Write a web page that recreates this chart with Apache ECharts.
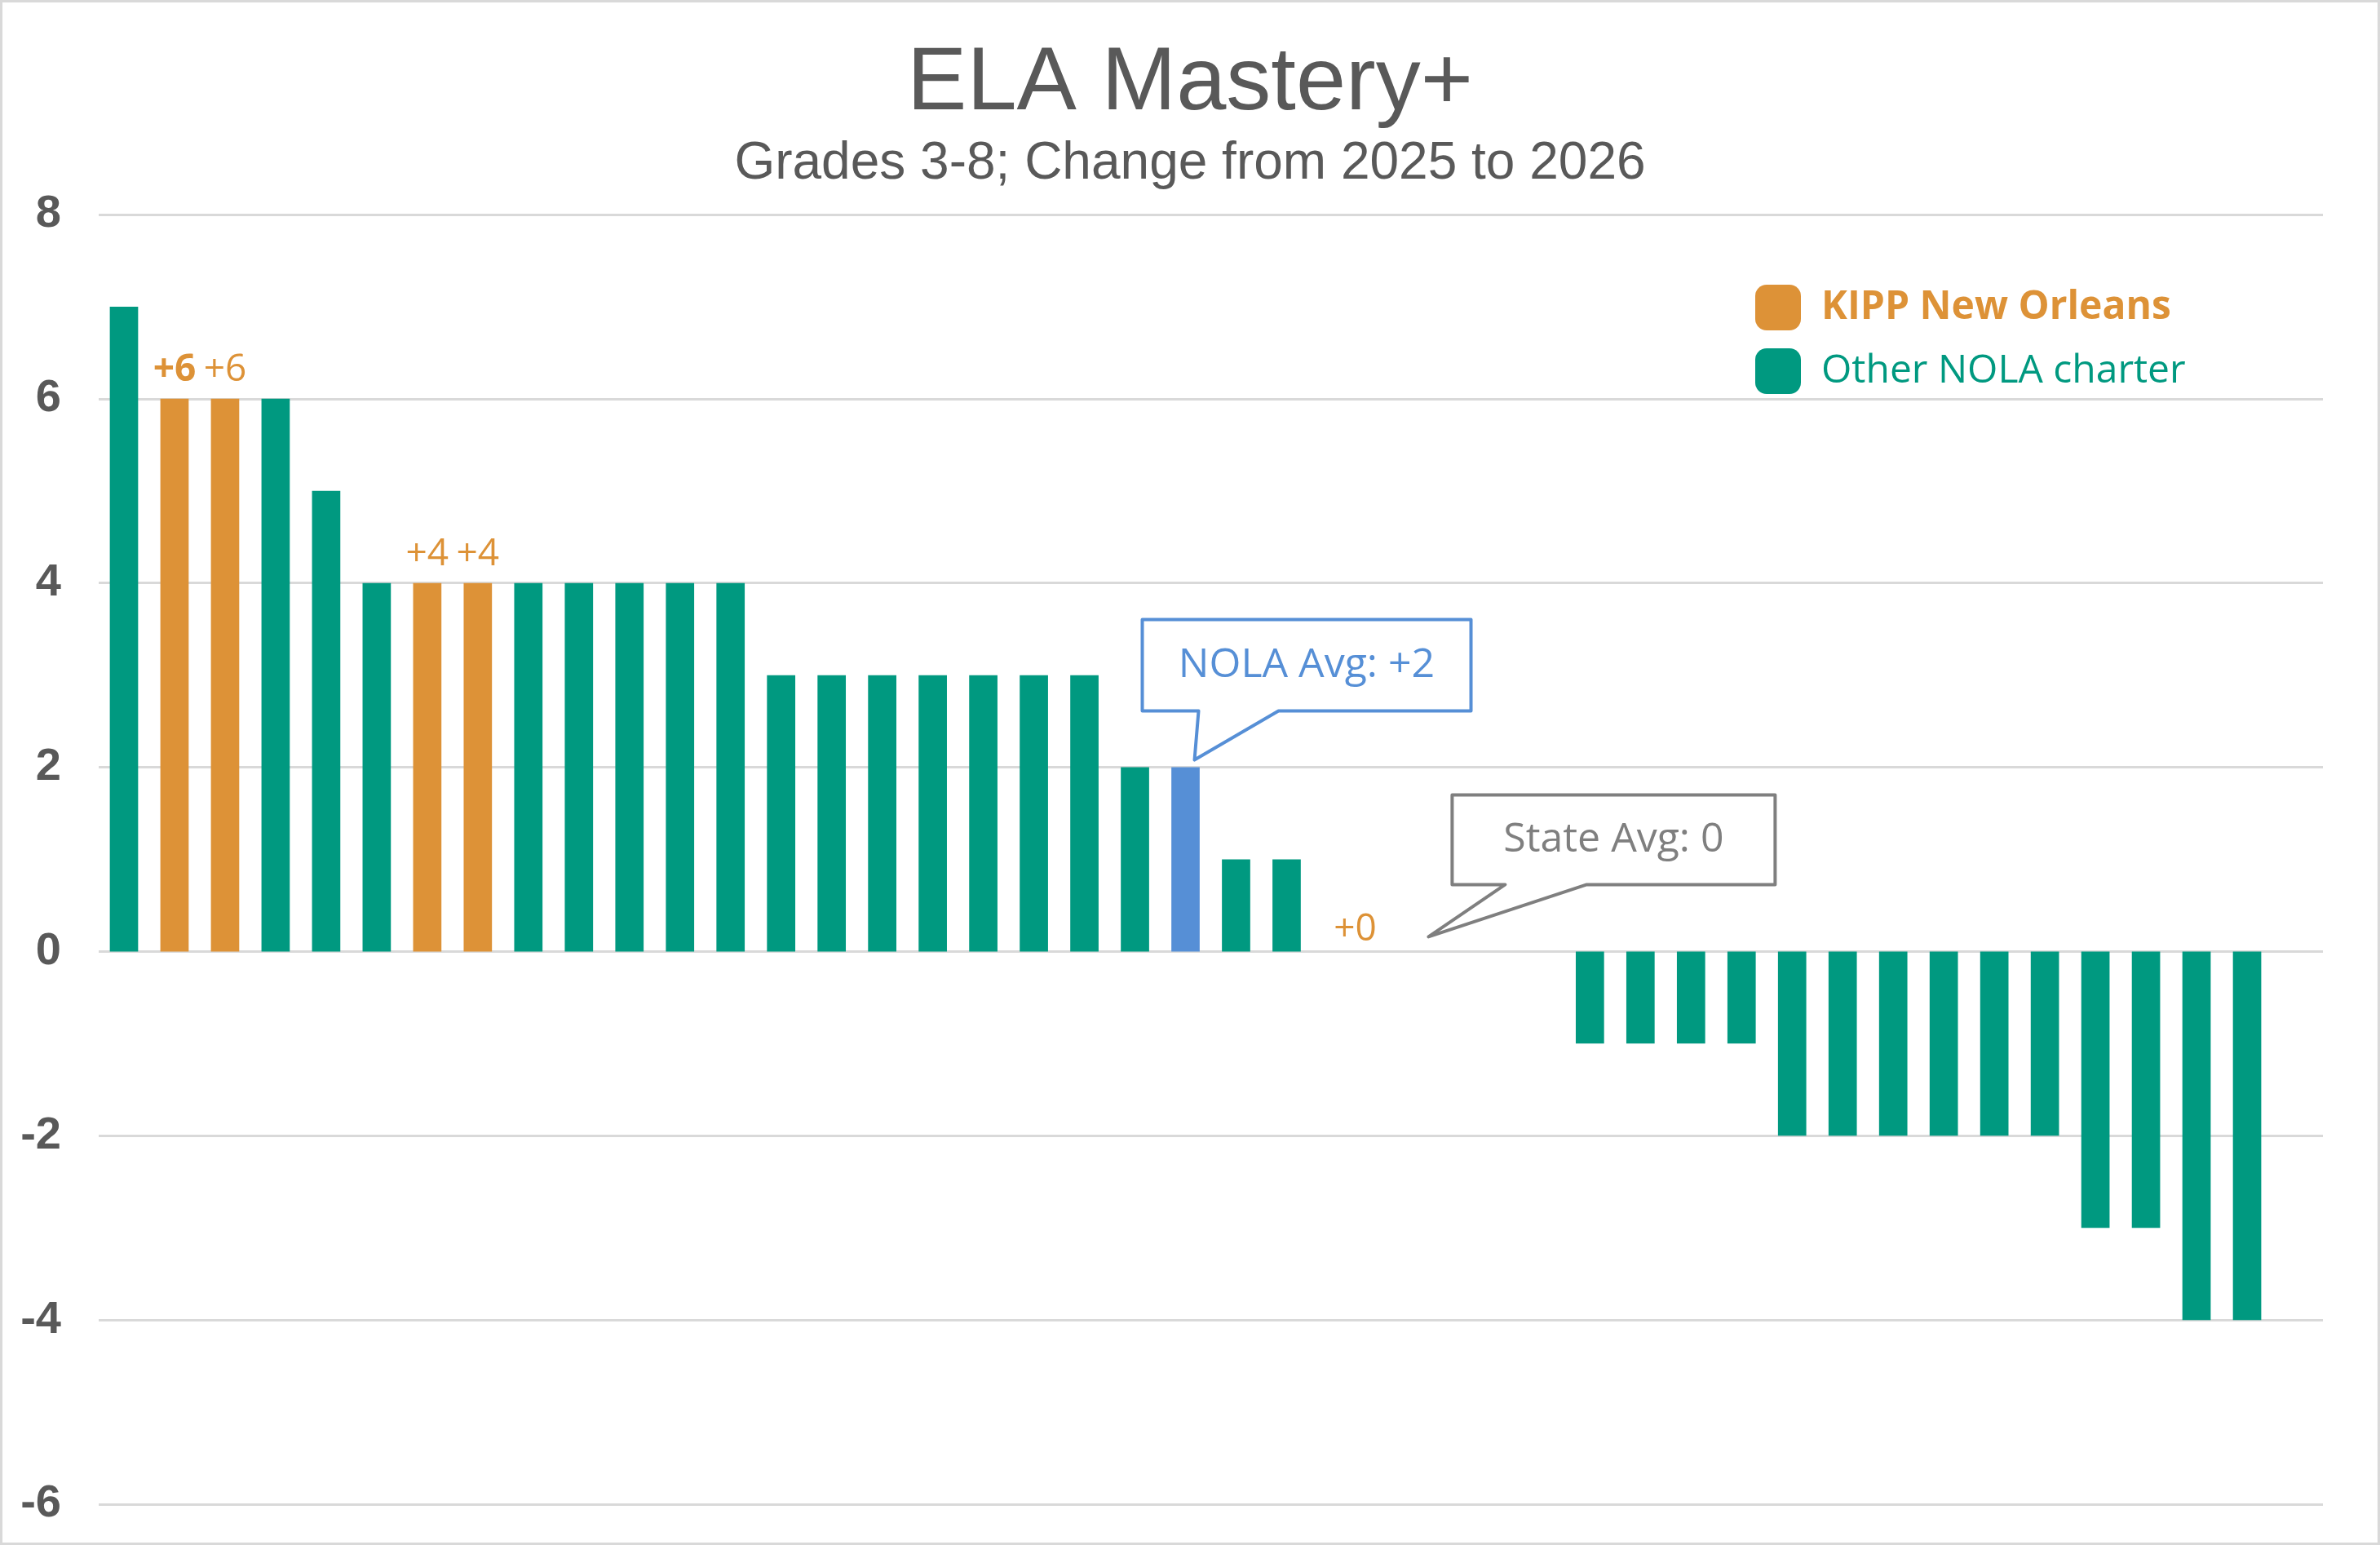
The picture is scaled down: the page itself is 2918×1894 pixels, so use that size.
<!DOCTYPE html>
<html>
<head>
<meta charset="utf-8">
<script src="https://cdn.jsdelivr.net/npm/echarts@6/dist/echarts.min.js"></script>
<style>
html, body { margin: 0; padding: 0; background: #fff; }
#chart { width: 2918px; height: 1894px; }
</style>
</head>
<body>
<div id="chart"></div>
<script>
// one slot per school, sorted by change; last slot is an empty spacer
var schools = ['1','2','3','4','5','6','7','8','9','10','11','12','13','14','15','16','17','18','19','20','21','22',
               '23','24','25','26','27','28','29','30','31','32','33','34','35','36','37','38','39','40','41','42','43','44'];
var change = [7,6,6,6,5,4,4,4,4,4,4,4,4,3,3,3,3,3,3,3,2,2,1,1,0,0,0,0,0,
              -1,-1,-1,-1,-2,-2,-2,-2,-2,-2,-3,-3,-4,-4,null];
// K = KIPP New Orleans, O = other NOLA charter, N = NOLA average, S = state average
var group = ['O','K','K','O','O','O','K','K','O','O','O','O','O','O','O','O','O','O','O','O','O','N',
             'O','O','K','O','S','O','O','O','O','O','O','O','O','O','O','O','O','O','O','O','O','O'];
var boldLabels = [1];
var yTicks = [-6, -4, -2, 0, 2, 4, 6, 8];
var calloutIndex = [21, 26];
var calloutText = ['NOLA Avg: +2', 'State Avg: 0'];

var teal = '#009980', orange = '#dd9237', blue = '#568fd6', grey = '#7f7f7f', ink = '#595959';

// small hand nudges for a few value labels (pixels)
var labelNudge = { 24: [22, 8] };

function pick(code) {
  return change.map(function (v, i) {
    if (group[i] !== code) return null;
    if (code === 'K') {
      return { value: v, label: {
        fontWeight: boldLabels.indexOf(i) >= 0 ? 'bold' : 'normal',
        offset: labelNudge[i] || [0, 0]
      } };
    }
    return v;
  });
}

// pixel shape of each callout, relative to the point it aims at
var calloutShape = [
  { dx: 11, lift: -9, box: [-64, 339, -172, -60], base: [5, 103], color: blue },
  { dx: -12, lift: -18, box: [29, 425, -174, -64], base: [94, 194], color: grey }
];

var myChart = echarts.init(document.getElementById('chart'));
var option = {
  animation: false,
  backgroundColor: '#fff',
  title: {
    text: 'ELA Mastery+',
    subtext: 'Grades 3-8; Change from 2025 to 2026',
    left: 'center',
    top: 44,
    itemGap: 10,
    textStyle: { fontFamily: 'Liberation Sans', fontSize: 110, fontWeight: 'normal', color: ink, lineHeight: 110 },
    subtextStyle: { fontFamily: 'Liberation Sans', fontSize: 64, color: ink, lineHeight: 64 }
  },
  legend: {
    orient: 'vertical',
    left: 2147,
    top: 344,
    itemWidth: 56,
    itemHeight: 56,
    itemGap: 22,
    icon: 'roundRect',
    selectedMode: false,
    textStyle: { fontFamily: 'Open Sans', fontSize: 48, padding: [0, 0, 0, 20] },
    data: [
      { name: 'KIPP New Orleans', textStyle: { color: orange, fontWeight: 'bold' } },
      { name: 'Other NOLA charter', textStyle: { color: teal } }
    ]
  },
  grid: { left: 121, right: 70, top: 263, bottom: 50 },
  xAxis: {
    type: 'category',
    data: schools,
    axisLine: { show: false },
    axisTick: { show: false },
    axisLabel: { show: false },
    splitLine: { show: false }
  },
  yAxis: {
    type: 'value',
    min: yTicks[0],
    max: yTicks[yTicks.length - 1],
    interval: 2,
    axisLine: { show: false },
    axisTick: { show: false },
    axisLabel: { fontFamily: 'Liberation Sans', fontSize: 56, fontWeight: 'bold', color: ink, margin: 46 },
    splitLine: { lineStyle: { color: '#d9d9d9', width: 3 } }
  },
  series: [
    {
      name: 'Other NOLA charter',
      type: 'bar',
      data: pick('O'),
      barGap: '-100%',
      barCategoryGap: '44%',
      itemStyle: { color: teal }
    },
    {
      name: 'KIPP New Orleans',
      type: 'bar',
      data: pick('K'),
      barGap: '-100%',
      barCategoryGap: '44%',
      itemStyle: { color: orange },
      label: {
        show: true,
        position: 'top',
        distance: 12,
        fontFamily: 'Open Sans',
        fontSize: 46,
        color: orange,
        formatter: function (p) { return (p.value >= 0 ? '+' : '') + p.value; }
      }
    },
    {
      name: 'NOLA Avg',
      type: 'bar',
      data: pick('N'),
      barGap: '-100%',
      barCategoryGap: '44%',
      itemStyle: { color: blue }
    },
    {
      name: 'Callouts',
      type: 'custom',
      z: 10,
      clip: false,
      data: calloutIndex.map(function (idx) { return [idx, change[idx]]; }),
      renderItem: function (params, api) {
        var s = calloutShape[params.dataIndex];
        var p = api.coord([api.value(0), api.value(1)]);
        var tx = p[0] + s.dx, ty = p[1] + s.lift;
        var L = tx + s.box[0], R = tx + s.box[1], T = ty + s.box[2], B = ty + s.box[3];
        var pts = [[L, T], [R, T], [R, B], [tx + s.base[1], B], [tx, ty], [tx + s.base[0], B], [L, B]];
        return {
          type: 'group',
          children: [
            { type: 'polygon', shape: { points: pts },
              style: { fill: '#fff', stroke: s.color, lineWidth: 4, lineJoin: 'round' } },
            { type: 'text', x: (L + R) / 2, y: (T + B) / 2,
              style: { text: calloutText[params.dataIndex], fill: s.color, fontFamily: 'Open Sans', fontSize: 50,
                       align: 'center', verticalAlign: 'middle' } }
          ]
        };
      }
    }
  ],
  graphic: [
    { type: 'rect', shape: { x: 1.5, y: 1.5, width: 2915, height: 1891 },
      style: { fill: 'none', stroke: '#d9d9d9', lineWidth: 3 }, silent: true }
  ]
};
myChart.setOption(option);
</script>
</body>
</html>
